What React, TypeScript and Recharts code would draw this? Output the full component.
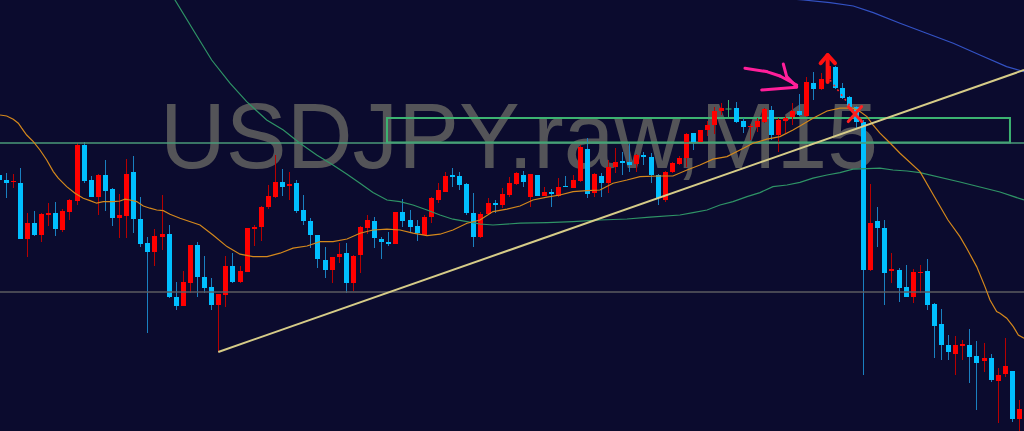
import React from 'react';
import { ComposedChart, Bar, Line, XAxis, YAxis, ReferenceLine, ReferenceArea } from 'recharts';

// USDJPY M15 candles (index = bar number from the left edge)
const OPEN = [
  151.125, 151.1, 151.09, 151.085, 150.805, 150.885, 150.825, 150.925, 150.935, 150.85,
  150.94, 150.995, 151.275, 151.1, 151.015, 151.125, 151.055, 150.91, 150.92, 151.14,
  150.905, 150.785, 150.74, 150.815, 150.83, 150.515, 150.47, 150.585, 150.775, 150.615,
  150.565, 150.475, 150.525, 150.67, 150.59, 150.64, 150.855, 150.865, 150.965, 151.015,
  151.09, 151.07, 151.085, 150.95, 150.895, 150.825, 150.7, 150.65, 150.715, 150.735,
  150.585, 150.725, 150.86, 150.895, 150.805, 150.79, 150.78, 150.94, 150.9, 150.87,
  150.825, 150.915, 151.0, 151.04, 151.125, 151.12, 151.08, 150.935, 150.815, 150.93,
  150.985, 150.975, 151.025, 151.08, 151.125, 151.015, 151.125, 151.02, 151.04, 151.02,
  151.07, 151.06, 151.095, 151.255, 151.035, 151.12, 151.085, 151.165, 151.195, 151.19,
  151.18, 151.225, 151.215, 151.125, 151.0, 151.14, 151.18, 151.21, 151.335, 151.29,
  151.35, 151.375, 151.445, 151.455, 151.46, 151.395, 151.365, 151.365, 151.39, 151.45,
  151.325, 151.395, 151.415, 151.445, 151.42, 151.585, 151.555, 151.605, 151.665, 151.56,
  151.515, 151.465, 151.39, 150.65, 150.895, 150.86, 150.645, 150.65, 150.565, 150.515,
  150.635, 150.645, 150.48, 150.38, 150.275, 150.23, 150.27, 150.275, 150.22, 150.195,
  150.21, 150.095, 150.13, 150.145, 149.905,
];
const HIGH = [
  151.14, 151.135, 151.13, 151.16, 150.935, 150.945, 150.935, 150.985, 150.99, 150.955,
  151.005, 151.285, 151.29, 151.12, 151.13, 151.2, 151.06, 151.03, 151.205, 151.22,
  151.015, 150.815, 150.855, 151.025, 150.875, 150.59, 150.645, 150.775, 150.79, 150.72,
  150.61, 150.53, 150.72, 150.735, 150.67, 150.86, 150.875, 150.97, 151.075, 151.225,
  151.155, 151.14, 151.1, 151.025, 150.91, 150.825, 150.765, 150.715, 150.785, 150.785,
  150.725, 150.87, 150.925, 150.915, 150.815, 150.84, 150.94, 151.005, 150.95, 150.9,
  150.925, 151.015, 151.085, 151.14, 151.16, 151.14, 151.085, 151.035, 150.94, 151.01,
  151.0, 151.06, 151.115, 151.14, 151.145, 151.13, 151.125, 151.065, 151.055, 151.11,
  151.12, 151.125, 151.275, 151.31, 151.135, 151.135, 151.2, 151.26, 151.24, 151.285,
  151.23, 151.24, 151.235, 151.13, 151.145, 151.19, 151.22, 151.335, 151.335, 151.35,
  151.395, 151.465, 151.485, 151.5, 151.49, 151.41, 151.38, 151.41, 151.46, 151.47,
  151.41, 151.42, 151.485, 151.53, 151.615, 151.64, 151.635, 151.685, 151.67, 151.585,
  151.52, 151.47, 151.4, 151.08, 150.965, 150.9, 150.735, 150.66, 150.675, 150.655,
  150.675, 150.705, 150.485, 150.455, 150.325, 150.32, 150.3, 150.355, 150.295, 150.285,
  150.23, 150.16, 150.31, 150.145, 150.0,
];
const LOW = [
  151.085, 151.01, 151.06, 150.805, 150.715, 150.82, 150.79, 150.87, 150.82, 150.84,
  150.9, 150.975, 151.085, 151.015, 150.925, 150.945, 150.87, 150.81, 150.81, 150.835,
  150.765, 150.335, 150.67, 150.75, 150.51, 150.45, 150.47, 150.535, 150.515, 150.535,
  150.45, 150.24, 150.465, 150.585, 150.585, 150.64, 150.77, 150.795, 150.955, 151.01,
  151.02, 151.0, 150.935, 150.875, 150.76, 150.66, 150.61, 150.585, 150.685, 150.535,
  150.545, 150.635, 150.83, 150.76, 150.705, 150.77, 150.78, 150.865, 150.835, 150.795,
  150.825, 150.885, 150.985, 151.04, 151.065, 151.05, 150.925, 150.765, 150.81, 150.925,
  150.935, 150.96, 151.015, 151.075, 151.065, 150.965, 151.02, 151.02, 150.965, 151.015,
  151.065, 151.06, 151.09, 151.01, 151.015, 151.015, 151.035, 151.135, 151.125, 151.14,
  151.14, 151.175, 151.085, 150.975, 150.99, 151.135, 151.175, 151.165, 151.25, 151.29,
  151.32, 151.33, 151.425, 151.41, 151.385, 151.335, 151.3, 151.34, 151.385, 151.3,
  151.24, 151.335, 151.375, 151.42, 151.415, 151.5, 151.55, 151.6, 151.555, 151.505,
  151.46, 151.36, 150.125, 150.645, 150.765, 150.475, 150.585, 150.49, 150.515, 150.485,
  150.535, 150.45, 150.21, 150.2, 150.2, 150.125, 150.2, 150.085, 149.95, 150.14,
  150.09, 149.885, 150.115, 149.89, 149.825,
];
const CLOSE = [
  151.1, 151.085, 151.095, 150.805, 150.885, 150.825, 150.93, 150.935, 150.855, 150.945,
  151.0, 151.275, 151.095, 151.015, 151.125, 151.045, 150.91, 150.925, 151.13, 150.905,
  150.78, 150.74, 150.82, 150.83, 150.515, 150.47, 150.59, 150.775, 150.615, 150.56,
  150.475, 150.53, 150.67, 150.59, 150.645, 150.86, 150.865, 150.965, 151.02, 151.09,
  151.065, 151.08, 150.945, 150.895, 150.825, 150.705, 150.65, 150.715, 150.73, 150.585,
  150.72, 150.865, 150.9, 150.81, 150.79, 150.78, 150.94, 150.895, 150.865, 150.835,
  150.915, 151.01, 151.05, 151.12, 151.115, 151.075, 150.935, 150.815, 150.93, 150.985,
  150.975, 151.03, 151.085, 151.135, 151.09, 151.13, 151.02, 151.04, 151.03, 151.065,
  151.065, 151.1, 151.265, 151.03, 151.13, 151.085, 151.165, 151.19, 151.185, 151.175,
  151.225, 151.215, 151.125, 151.01, 151.14, 151.185, 151.21, 151.33, 151.29, 151.35,
  151.375, 151.445, 151.46, 151.455, 151.39, 151.365, 151.37, 151.395, 151.455, 151.325,
  151.4, 151.41, 151.445, 151.425, 151.59, 151.555, 151.605, 151.67, 151.56, 151.51,
  151.465, 151.39, 150.65, 150.885, 150.86, 150.635, 150.655, 150.56, 150.515, 150.64,
  150.64, 150.475, 150.37, 150.275, 150.24, 150.275, 150.28, 150.215, 150.185, 150.21,
  150.1, 150.125, 150.17, 149.905, 149.955,
];

// moving averages as drawn: [bar index, price]
const MA_FAST: [number, number][] = [
  [0.2, 151.425], [1.14, 151.42], [2.07, 151.404], [2.78, 151.384], [3.26, 151.359], [3.96, 151.325],
  [4.9, 151.292], [5.84, 151.25], [6.79, 151.2], [7.72, 151.142], [8.42, 151.109], [9.61, 151.067],
  [10.78, 151.034], [11.95, 151.009], [12.9, 150.997], [13.84, 150.984], [14.77, 150.992], [16.19, 150.992],
  [17.13, 150.995], [17.84, 151.004], [18.54, 151.0], [19.49, 150.992], [20.42, 150.97], [21.36, 150.959],
  [22.31, 150.95], [23.24, 150.947], [24.19, 150.929], [25.6, 150.909], [28.42, 150.875], [30.25, 150.825],
  [32.23, 150.767], [34.07, 150.729], [35.9, 150.717], [37.88, 150.717], [39.71, 150.734], [41.55, 150.759],
  [43.52, 150.77], [45.36, 150.792], [47.19, 150.792], [49.17, 150.805], [51.0, 150.834], [52.83, 150.85],
  [54.81, 150.854], [56.64, 150.85], [58.48, 150.834], [60.46, 150.822], [62.29, 150.829], [64.12, 150.85],
  [66.1, 150.884], [67.94, 150.9], [69.77, 150.942], [71.75, 150.954], [73.58, 150.97], [75.41, 151.0],
  [77.39, 151.014], [79.22, 151.025], [81.06, 151.042], [83.04, 151.047], [84.87, 151.05], [86.71, 151.084],
  [88.68, 151.1], [90.51, 151.117], [93.34, 151.12], [95.17, 151.12], [97.15, 151.15], [98.98, 151.175],
  [100.82, 151.204], [102.79, 151.217], [104.63, 151.25], [106.46, 151.284], [108.44, 151.304], [110.27, 151.317],
  [112.11, 151.35], [113.09, 151.37], [114.93, 151.409], [116.91, 151.445], [118.74, 151.459], [120.58, 151.459],
  [121.56, 151.442], [122.55, 151.417], [123.4, 151.375], [124.38, 151.334], [125.37, 151.3], [126.22, 151.27],
  [127.21, 151.234], [130.03, 151.142], [132.01, 151.02], [133.98, 150.9], [135.67, 150.817], [136.62, 150.759],
  [138.03, 150.667], [139.2, 150.567], [139.91, 150.5], [140.85, 150.442], [141.32, 150.434], [142.27, 150.409],
  [143.2, 150.367], [143.91, 150.325], [144.71, 150.309],
];
const MA_MID: [number, number][] = [
  [22.78, 152.125], [24.89, 152.0], [27.47, 151.85], [30.07, 151.7], [32.65, 151.584], [35.01, 151.492],
  [37.83, 151.4], [40.18, 151.35], [42.53, 151.284], [44.89, 151.225], [47.19, 151.175], [49.17, 151.129],
  [51.0, 151.084], [52.83, 151.037], [54.81, 151.0], [56.64, 150.992], [58.48, 150.975], [60.46, 150.95],
  [62.29, 150.925], [64.12, 150.904], [66.1, 150.892], [67.94, 150.88], [69.77, 150.875], [73.58, 150.884],
  [77.39, 150.887], [81.06, 150.892], [84.87, 150.9], [88.68, 150.905], [91.93, 150.914], [96.16, 150.925],
  [98.0, 150.937], [99.97, 150.95], [101.81, 150.975], [103.64, 150.992], [105.62, 151.017], [107.45, 151.037],
  [109.28, 151.067], [111.26, 151.075], [113.09, 151.088], [114.93, 151.109], [116.91, 151.125], [118.74, 151.137],
  [120.58, 151.154], [122.55, 151.157], [124.38, 151.159], [126.22, 151.15], [128.2, 151.145], [130.03, 151.137],
  [135.67, 151.09], [141.32, 151.04], [144.71, 151.0],
];
const MA_SLOW: [number, number][] = [
  [108.86, 152.015], [113.56, 152.0], [117.33, 151.987], [120.62, 151.97], [123.44, 151.937], [127.21, 151.884],
  [130.97, 151.834], [134.73, 151.784], [138.49, 151.725], [142.26, 151.667], [144.71, 151.642],
];

// drawn objects
const TRENDLINE: [number, number][] = [[31, 150.24], [144.71, 151.65]];
const LEVEL_GREEN = 151.285;
const LEVEL_GRAY = 150.54;
const ZONE_X = [54.81, 142.73];
const ZONE_Y = [151.288, 151.41];
const PINK_ARROW: [number, number][][] = [
  [[105.33, 151.659], [108.39, 151.642], [110.27, 151.62], [112.63, 151.575]],
  [[110.74, 151.68], [111.22, 151.617], [112.63, 151.567]],
  [[107.69, 151.55], [112.63, 151.564]],
];
const RED_ARROW: [number, number][][] = [
  [[117.0, 151.712], [117.0, 151.59]],
  [[116.01, 151.684], [117.0, 151.725], [118.03, 151.684]],
];
const RED_CROSS: [number, number][][] = [
  [[119.91, 151.467], [121.8, 151.392]],
  [[121.8, 151.467], [119.91, 151.392]],
];
const RED_DOTS: [number, number][] = [[117.33, 151.6], [120.29, 151.465]];

const UP = '#ff0000';
const UP_WICK = '#b80000';
const DOWN = '#00bfff';
const DOWN_WICK = '#1a80c0';
const DOJI = '#3cb371';

const candles = OPEN.map((o, i) => ({
  i,
  o,
  h: HIGH[i],
  l: LOW[i],
  c: CLOSE[i],
  range: [LOW[i], HIGH[i]],
}));

const toRows = (pts: [number, number][]) => pts.map(([i, v]) => ({ i, v }));

const Candle = (props: any) => {
  let { x, y, width, height } = props;
  const { o, h, l, c } = props.payload;
  if (height < 0) {
    y += height;
    height = -height;
  }
  const cx = Math.round(x + width / 2) + 0.5;
  const k = h > l ? height / (h - l) : 0;
  const top = y + (h - Math.max(o, c)) * k;
  const bot = y + (h - Math.min(o, c)) * k;
  const doji = o === c;
  const up = c > o;
  const body = doji ? DOJI : up ? UP : DOWN;
  const wick = doji ? DOJI : up ? UP_WICK : DOWN_WICK;
  return (
    <g>
      <line x1={cx} x2={cx} y1={y} y2={y + height} stroke={wick} strokeWidth={1} />
      {doji ? (
        <line x1={cx - 3} x2={cx + 3} y1={top} y2={top} stroke={body} strokeWidth={1} />
      ) : (
        <rect x={cx - 2.5} y={top} width={5} height={Math.max(1, bot - top)} fill={body} />
      )}
    </g>
  );
};

const polySegments = (pts: [number, number][]) =>
  pts.slice(1).map((p, k) => [
    { x: pts[k][0], y: pts[k][1] },
    { x: p[0], y: p[1] },
  ]);

const drawPaths = (paths: [number, number][][], color: string, width: number, key: string) =>
  paths.flatMap((path, n) =>
    polySegments(path).map((seg, m) => (
      <ReferenceLine
        key={`${key}-${n}-${m}`}
        segment={seg}
        stroke={color}
        strokeWidth={width}
        strokeLinecap="round"
        ifOverflow="visible"
      />
    ))
  );

export default function App() {
  return (
    <div style={{ position: 'relative', width: 1024, height: 431, background: '#0b0b2e', overflow: 'hidden' }}>
      <style>{'body{margin:0}'}</style>
      <svg width={1024} height={431} style={{ position: 'absolute', left: 0, top: 0 }}>
        <text
          x={160}
          y={168}
          fontFamily="'Liberation Sans', Arial, sans-serif"
          fontSize={92}
          fill="#545458"
          textLength={718}
          lengthAdjust="spacingAndGlyphs"
        >
          USDJPY.raw,M15
        </text>
      </svg>
      <div style={{ position: 'absolute', left: 0, top: 0 }}>
        <ComposedChart width={1024} height={431} data={candles} margin={{ top: 0, right: 0, bottom: 0, left: 0 }}>
          <XAxis dataKey="i" type="number" domain={[0.196, 144.71]} allowDataOverflow hide />
          <YAxis type="number" domain={[149.845, 152]} allowDataOverflow hide />
          <ReferenceLine y={LEVEL_GRAY} stroke="#5c5c60" strokeWidth={1.5} />
          <ReferenceLine y={LEVEL_GREEN} stroke="#4a9a78" strokeWidth={1.5} />
          <ReferenceArea
            x1={ZONE_X[0]}
            x2={ZONE_X[1]}
            y1={ZONE_Y[0]}
            y2={ZONE_Y[1]}
            fill="none"
            stroke="#3cb371"
            strokeWidth={2}
            ifOverflow="visible"
          />
          <Bar dataKey="range" barSize={5} shape={Candle} isAnimationActive={false} />
          <Line data={toRows(MA_MID)} dataKey="v" type="linear" dot={false} activeDot={false} stroke="#2f9466" strokeWidth={1.2} isAnimationActive={false} />
          <Line data={toRows(MA_SLOW)} dataKey="v" type="linear" dot={false} activeDot={false} stroke="#3352c4" strokeWidth={1.2} isAnimationActive={false} />
          <Line data={toRows(MA_FAST)} dataKey="v" type="linear" dot={false} activeDot={false} stroke="#d4881c" strokeWidth={1.2} isAnimationActive={false} />
          <ReferenceLine
            segment={[
              { x: TRENDLINE[0][0], y: TRENDLINE[0][1] },
              { x: TRENDLINE[1][0], y: TRENDLINE[1][1] },
            ]}
            stroke="#d6cc88"
            strokeWidth={2}
            ifOverflow="visible"
          />
          {drawPaths(PINK_ARROW, '#ff1f9a', 3, 'pink')}
          <ReferenceLine
            segment={[
              { x: RED_DOTS[0][0], y: RED_DOTS[0][1] },
              { x: RED_DOTS[1][0], y: RED_DOTS[1][1] },
            ]}
            stroke="#ff2020"
            strokeWidth={1.5}
            strokeDasharray="2 4"
            ifOverflow="visible"
          />
          {drawPaths(RED_ARROW, '#ff1010', 4, 'arrow')}
          {drawPaths(RED_CROSS, '#ff2020', 3, 'cross')}
        </ComposedChart>
      </div>
    </div>
  );
}
